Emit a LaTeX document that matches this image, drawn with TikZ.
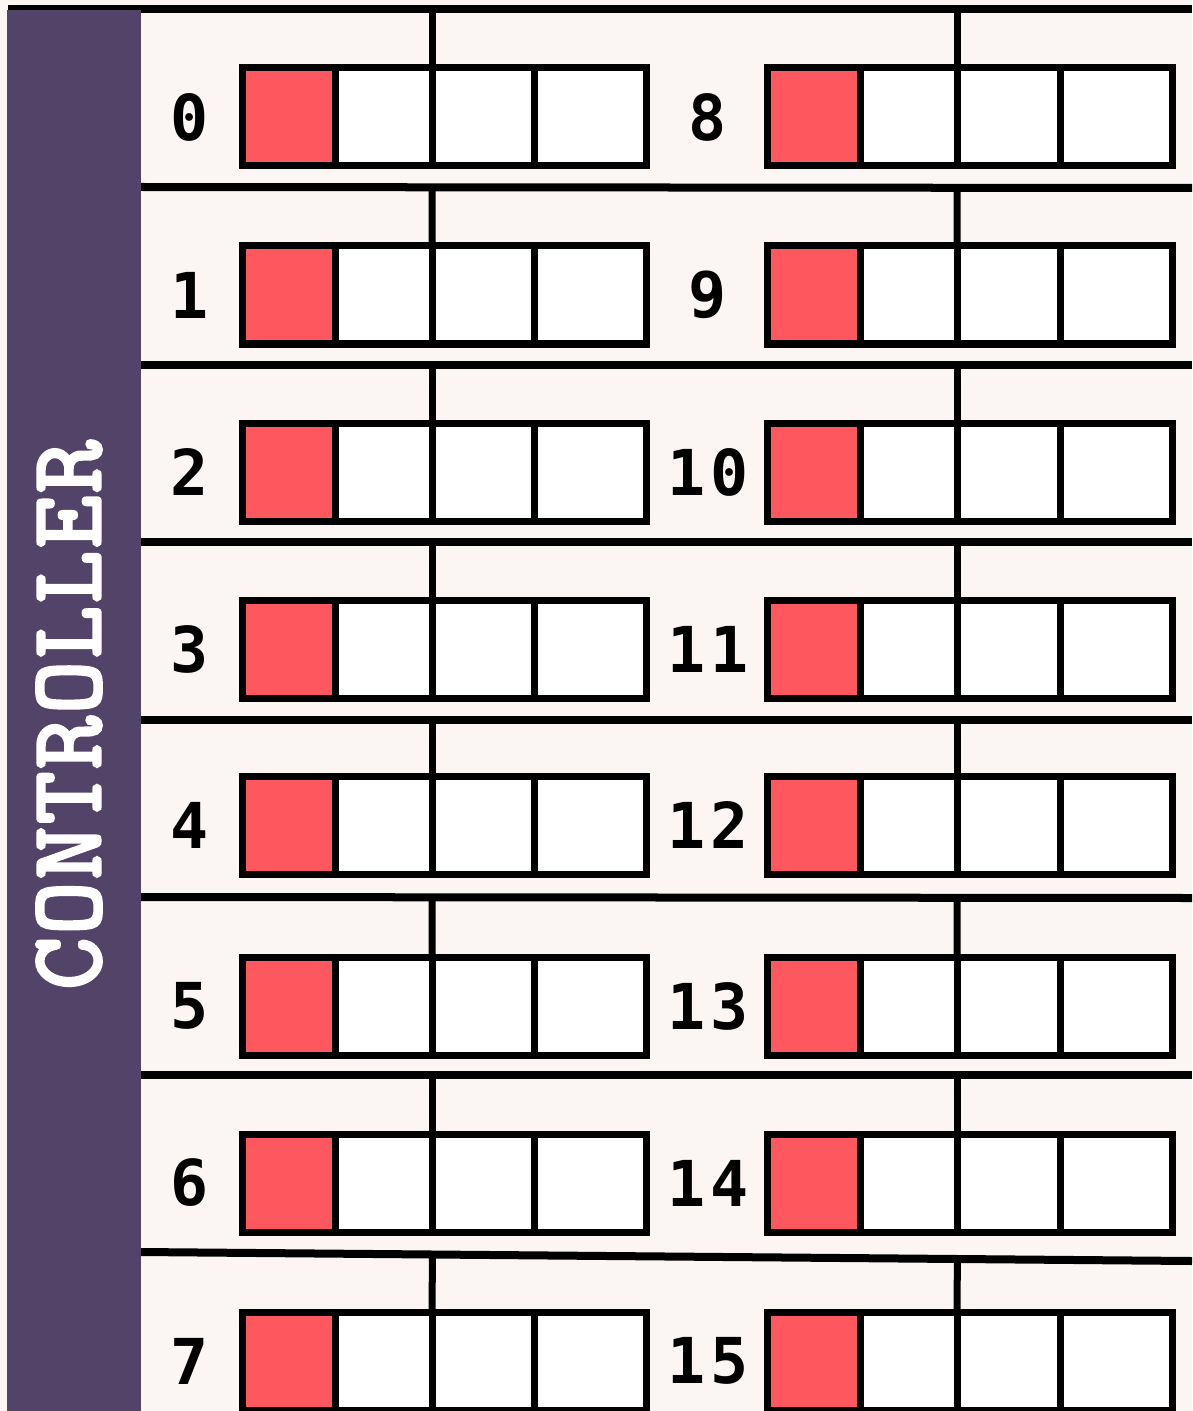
\documentclass[tikz,border=0pt]{standalone}
\usepackage{fontspec}
\usetikzlibrary{positioning,calc}

\newfontfamily\numfont{DejaVu Sans Mono}[LetterSpace=8]
\newfontfamily\bandfont{Latin Modern Mono}[FakeBold=3.5, LetterSpace=3]

\definecolor{paper}{HTML}{FBF6F3}
\definecolor{band}{HTML}{524468}
\definecolor{lamp}{HTML}{FF575E}

\newcommand{\pxu}{0.025cm}

\begin{document}
\begin{tikzpicture}[
		x=0.025cm,y=-0.025cm,
		every node/.style={inner sep=0pt, outer sep=0pt},
		cell/.style={draw=black, line width=0.175cm, fill=white, minimum height=98*\pxu},
		lampcell/.style={cell, fill=lamp},
		rule/.style={line width=0.2cm},
		tick/.style={line width=0.175cm},
		rowno/.style={font=\numfont\bfseries\fontsize{45}{45}\selectfont}
		]
		
		% =========================
		% background and controller band
		% =========================
		\fill[paper] (0,0) rectangle (1192,1411);
		\useasboundingbox (0,0) rectangle (1192,1411);
		
		\draw[rule] (8,9) -- (1192,9);
		\fill[band] (7,10) rectangle (141,1411);
		\node[rotate=90, text=white, font=\bandfont\fontsize{72}{72}\selectfont] (ctrl) at (69,715) {CONTROLLER};
		
		% =========================
		% rows: separator, two banks of four cells
		% =========================
		\foreach \r/\s/\t/\b in {0/9/9/68, 1/187/188/246, 2/365/365/423, 3/542/542/600,
			4/720/720/776, 5/897/898/957, 6/1075/1075/1134, 7/1252/1261/1312} {
			\pgfmathtruncatemacro{\q}{\r+8}
			
			% separator above the row
			\coordinate (s\r) at (141,\s);
			\coordinate (e\r) at (1192,\t);
			\ifnum\r>0
				\draw[rule] (s\r) -- (e\r);
			\fi
			
			% left bank
			\node[lampcell, minimum width=93*\pxu, anchor=north west] (L\r-1) at (242,\b) {};
			\node[cell, minimum width=97*\pxu, right=0pt of L\r-1] (L\r-2) {};
			\node[cell, minimum width=102*\pxu, right=0pt of L\r-2] (L\r-3) {};
			\node[cell, minimum width=112*\pxu, right=0pt of L\r-3] (L\r-4) {};
			\node[rowno] (nL\r) at (190,\b+49) {\r};
			
			% right bank
			\node[lampcell, minimum width=93*\pxu, anchor=north west] (R\r-1) at (767,\b) {};
			\node[cell, minimum width=97*\pxu, right=0pt of R\r-1] (R\r-2) {};
			\node[cell, minimum width=103*\pxu, right=0pt of R\r-2] (R\r-3) {};
			\node[cell, minimum width=112*\pxu, right=0pt of R\r-3] (R\r-4) {};
			\node[rowno] (nR\r) at (708,\b+49) {\q};
			
			% ticks up to the separator
			\draw[tick] (L\r-3.north west) -- ($(s\r)!(L\r-3.north west)!(e\r)$);
			\draw[tick] (R\r-3.north west) -- ($(s\r)!(R\r-3.north west)!(e\r)$);
		}
		
	\end{tikzpicture}
\end{document}
